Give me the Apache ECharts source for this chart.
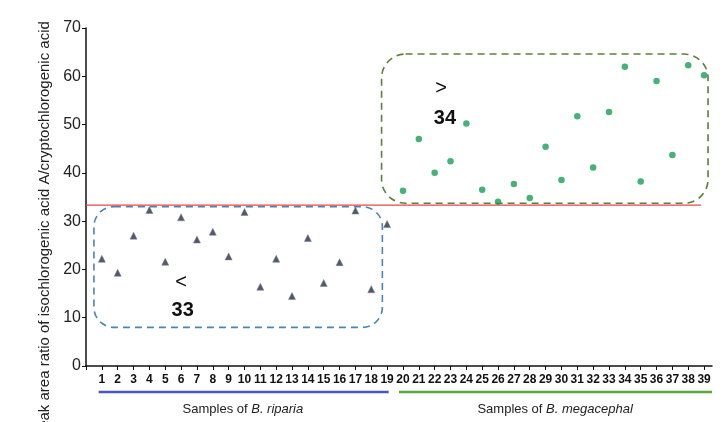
<!DOCTYPE html>
<html>
<head>
<meta charset="utf-8">
<script src="https://cdn.jsdelivr.net/npm/echarts@6/dist/echarts.min.js"></script>
<style>
  html, body { margin: 0; padding: 0; background: #fff; }
  #chart { width: 726px; height: 422px; }
</style>
</head>
<body>
<div id="chart"></div>
<script>
// 数据：样品编号和比值
var ripariaIds = [1,2,3,4,5,6,7,8,9,10,11,12,13,14,15,16,17,18,19];
var ripariaVals = [22.2,19.3,27.0,32.3,21.6,30.8,26.2,27.8,22.7,31.9,16.4,22.2,14.5,26.5,17.2,21.5,32.2,15.9,29.4];
var megaIds = [20,21,22,23,24,25,26,27,28,29,30,31,32,33,34,35,36,37,38,39];
var megaVals = [36.3,47.0,40.0,42.4,50.2,36.5,34.0,37.7,34.8,45.4,38.5,51.7,41.1,52.6,62.0,38.2,59.0,43.7,62.3,60.2];
var threshold = 33.3;
var thresholdSpan = [0, 38.8];
var yTicks = [0,10,20,30,40,50,60,70];

// 虚线框（数据坐标）
var ripariaBox = [0.5, 33, 18.7, 8];
var megaBox = [18.65, 64.6, 39.25, 33.7];

var chart = echarts.init(document.getElementById('chart'));

function pairs(ids, vals) {
    var out = [];
    for (var i = 0; i < ids.length; i++) out.push([ids[i], vals[i]]);
    return out;
}

chart.setOption({
    animation: false,
    grid: { left: 86, right: 14, top: 28, bottom: 56 },
    xAxis: {
        type: 'value',
        min: 0,
        max: 39.5,
        interval: 1,
        splitLine: { show: false },
        axisLine: { lineStyle: { color: '#111', width: 1.5 } },
        axisTick: { lineStyle: { color: '#111' }, length: 4 },
        axisLabel: {
            color: '#111',
            fontFamily: 'Liberation Sans',
            fontWeight: 'bold',
            fontSize: 12,
            margin: 8,
            showMaxLabel: false,
            formatter: function (v) { return v === 0 ? '' : v; }
        }
    },
    yAxis: {
        type: 'value',
        min: yTicks[0],
        max: yTicks[yTicks.length - 1],
        interval: 10,
        splitLine: { show: false },
        axisLine: { show: true, lineStyle: { color: '#111', width: 1.5 } },
        axisTick: { show: true, lineStyle: { color: '#111' }, length: 4 },
        axisLabel: { color: '#222', fontFamily: 'Liberation Sans', fontSize: 16, margin: 5 }
    },
    series: [
        {
            type: 'line',
            silent: true,
            symbol: 'none',
            z: 1,
            lineStyle: { color: '#e8474a', width: 1.3 },
            data: [[thresholdSpan[0], threshold], [thresholdSpan[1], threshold]]
        },
        {
            type: 'scatter',
            symbol: 'triangle',
            symbolSize: 7,
            z: 3,
            itemStyle: { color: '#283044', borderColor: '#6f7a94', borderWidth: 0.6 },
            data: pairs(ripariaIds, ripariaVals)
        },
        {
            type: 'scatter',
            symbol: 'circle',
            symbolSize: 6.5,
            z: 3,
            itemStyle: { color: '#17a055' },
            data: pairs(megaIds, megaVals)
        }
    ]
});

// 注释：虚线框、文字、底部分组线
function px(x, y) { return chart.convertToPixel({ gridIndex: 0 }, [x, y]); }

function boxRect(b, color, r) {
    var p1 = px(b[0], b[1]);
    var p2 = px(b[2], b[3]);
    return {
        type: 'rect',
        silent: true,
        shape: { x: p1[0], y: p1[1], width: p2[0] - p1[0], height: p2[1] - p1[1], r: r },
        style: { fill: null, stroke: color, lineWidth: 1.6, lineDash: [7, 5] }
    };
}

function note(x, y, txt, bold) {
    var p = px(x, y);
    return {
        type: 'text',
        silent: true,
        x: p[0], y: p[1],
        style: {
            text: txt,
            fill: '#111',
            font: (bold ? 'bold ' : '') + '20px Liberation Sans',
            align: 'center',
            verticalAlign: 'middle'
        }
    };
}

function groupLine(x1, x2, color) {
    var a = px(x1, 0), b = px(x2, 0);
    return {
        type: 'line',
        silent: true,
        shape: { x1: a[0], y1: 392, x2: b[0], y2: 392 },
        style: { stroke: color, lineWidth: 2.5 }
    };
}

function groupLabel(x, species) {
    var p = px(x, 0);
    return {
        type: 'text',
        silent: true,
        x: p[0], y: 409,
        style: {
            text: '{n|Samples of }{i|' + species + '}',
            align: 'center',
            verticalAlign: 'middle',
            rich: {
                n: { fontSize: 13, fontFamily: 'Liberation Sans', fill: '#222' },
                i: { fontSize: 13, fontFamily: 'Liberation Sans', fontStyle: 'italic', fill: '#222' }
            }
        }
    };
}

chart.setOption({
    graphic: [
        boxRect(ripariaBox, '#4a86b4', 20),
        boxRect(megaBox, '#5d7f3a', 24),
        note(6.0, 17.2, '<', false),
        note(6.1, 11.6, '33', true),
        note(22.4, 57.5, '>', false),
        note(22.65, 51.3, '34', true),
        groupLine(0.8, 19.1, '#4a56c8'),
        groupLine(19.75, 39.5, '#5aa83a'),
        groupLabel(9.9, 'B. riparia'),
        groupLabel(29.6, 'B. megacephal'),
        {
            type: 'text',
            silent: true,
            x: 45, y: 230,
            rotation: Math.PI / 2,
            style: {
                text: 'Peak area ratio of isochlorogenic acid A/cryptochlorogenic acid',
                fill: '#222',
                font: '15px Liberation Sans',
                align: 'center',
                verticalAlign: 'middle'
            }
        }
    ]
});
</script>
</body>
</html>
